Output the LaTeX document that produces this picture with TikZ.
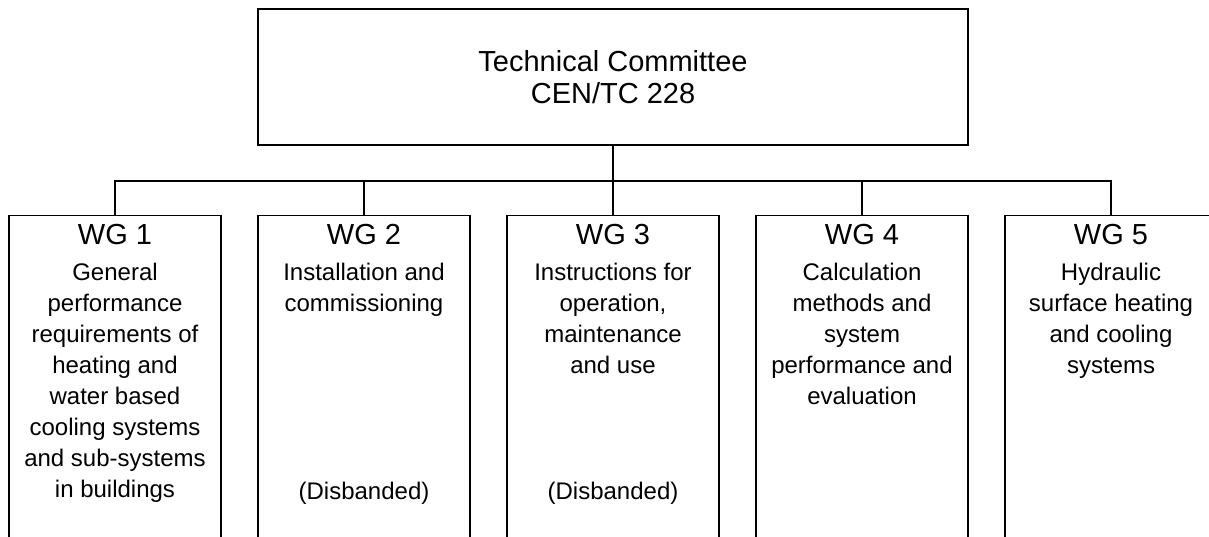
\documentclass[tikz,border=0pt]{standalone}
\usepackage{fontspec}
\setmainfont{Liberation Sans}
\usetikzlibrary{positioning}

\begin{document}
\begin{tikzpicture}[x=1pt,y=-1pt,node distance=249pt,on grid,line width=1.3pt,
    box/.style={draw,minimum width=212pt,minimum height=330pt,anchor=north,inner sep=0pt},
    head/.style={font=\fontsize{29}{33}\selectfont,anchor=base,inner sep=0pt},
    body/.style={font=\fontsize{24}{31}\selectfont,align=center,anchor=north,inner sep=0pt}]

        \useasboundingbox (0,0) rectangle (1209,536);

        \node[draw,minimum width=710pt,minimum height=136pt,align=center,
              font=\fontsize{29}{32.6}\selectfont] (tc) at (613,77) {Technical Committee\\CEN/TC 228};

        \node[box] (wg_1) at (115,215) {};
        \node[box] (wg_2) [right=of wg_1] {};
        \node[box] (wg_3) [right=of wg_2] {};
        \node[box] (wg_4) [right=of wg_3] {};
        \node[box] (wg_5) [right=of wg_4] {};

        \coordinate (bus) at (613,181);

        \foreach \i in {1,...,5}
          \node[head] (h_\i) at ([yshift=-29pt]wg_\i.north) {WG \i};

        \node[body] (b_1) at ([yshift=-47pt]wg_1.north) {General\\performance\\requirements of\\heating and\\water based\\cooling systems\\and sub-systems\\in buildings};
        \node[body] (b_2) at ([yshift=-47pt]wg_2.north) {Installation and\\commissioning};
        \node[body] (b_3) at ([yshift=-47pt]wg_3.north) {Instructions for\\operation,\\maintenance\\and use};
        \node[body] (b_4) at ([yshift=-47pt]wg_4.north) {Calculation\\methods and\\system\\performance and\\evaluation};
        \node[body] (b_5) at ([yshift=-47pt]wg_5.north) {Hydraulic\\surface heating\\and cooling\\systems};

        \node[body,anchor=base] (d_2) at ([yshift=-284pt]wg_2.north) {(Disbanded)};
        \node[body,anchor=base] (d_3) at ([yshift=-284pt]wg_3.north) {(Disbanded)};

        \draw (tc) -- (bus);
        \foreach \i in {1,...,5}
          \draw (wg_\i.north) |- (bus);
      \end{tikzpicture}
\end{document}
